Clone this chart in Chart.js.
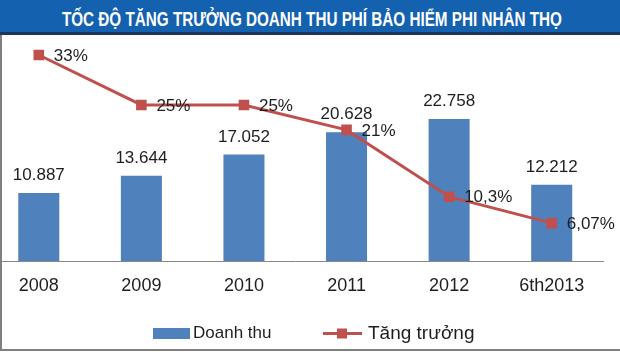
<!DOCTYPE html>
<html>
<head>
<meta charset="utf-8">
<script src="https://cdn.jsdelivr.net/npm/chart.js@4.4.1/dist/chart.umd.min.js"></script>
<style>
  html, body { margin:0; padding:0; background:#fff; }
  body { width:620px; height:354px; position:relative; overflow:hidden; }
  #banner { position:absolute; left:0; top:0; width:620px; height:32px; background:#1461b0; border-bottom:3px solid #1f3558; }
  #title { position:absolute; left:0; top:3px; width:620px; height:32px; line-height:32px; white-space:nowrap; }
  #title span { position:absolute; top:0; left:0; display:inline-block; font-family:"Liberation Sans", Arial, sans-serif; font-weight:bold; font-size:20px; color:#fff; transform-origin:center center; }
  #lb { position:absolute; left:0; top:35px; width:2px; height:316px; background:#7f7f7f; z-index:5; }
  #bb { position:absolute; left:0; top:349px; width:620px; height:2px; background:#7f7f7f; z-index:5; }
  #wrap { position:absolute; left:-20px; top:35px; width:640px; height:319px; }
</style>
</head>
<body>
<div id="banner"></div>
<div id="title"><span id="tspan">TỐC ĐỘ TĂNG TRƯỞNG DOANH THU PHÍ BẢO HIỂM PHI NHÂN THỌ</span></div>
<div id="wrap"><canvas id="c" width="640" height="319"></canvas></div>
<div id="lb"></div>
<div id="bb"></div>
<script>
const categories = ["2008", "2009", "2010", "2011", "2012", "6th2013"];
const revenue = [10.887, 13.644, 17.052, 20.628, 22.758, 12.212];
const revenueLabels = ["10.887", "13.644", "17.052", "20.628", "22.758", "12.212"];
const growth = [33, 25, 25, 21, 10.3, 6.07];
const growthLabels = ["33%", "25%", "25%", "21%", "10,3%", "6,07%"];
const seriesNames = ["Doanh thu", "Tăng trưởng"];

// condense title to fit its width, centred at x = 312
(function(){
  const s = document.getElementById('tspan');
  const w = s.getBoundingClientRect().width;
  s.style.left = (312 - w / 2) + 'px';
  s.style.transform = 'scaleX(' + (500 / w) + ')';
})();

const BAR = '#4f81bd';
const LINE = '#c0504d';
const TXT = '#1e1e1e';
const FONT = '"Liberation Sans", Arial, sans-serif';

const labelPlugin = {
  id: 'valueLabels',
  afterDatasetsDraw(chart) {
    const ctx = chart.ctx;
    ctx.save();
    ctx.fillStyle = TXT;
    ctx.font = '17px ' + FONT;
    const barMeta = chart.getDatasetMeta(1);
    ctx.textAlign = 'center';
    ctx.textBaseline = 'alphabetic';
    barMeta.data.forEach((el, i) => {
      ctx.fillText(revenueLabels[i], el.x, el.y - 13);
    });
    const lineMeta = chart.getDatasetMeta(0);
    ctx.textAlign = 'left';
    ctx.textBaseline = 'middle';
    lineMeta.data.forEach((el, i) => {
      ctx.fillText(growthLabels[i], el.x + 15, el.y + 1);
    });
    ctx.restore();
  },
  afterDraw(chart) {
    const ctx = chart.ctx;
    const ox = 20, oy = -35;
    ctx.save();
    ctx.fillStyle = BAR;
    ctx.fillRect(153 + ox, 328 + oy, 37, 11);
    ctx.fillStyle = TXT;
    ctx.font = '17px ' + FONT;
    ctx.textAlign = 'left';
    ctx.textBaseline = 'alphabetic';
    ctx.fillText(seriesNames[0], 193 + ox, 338 + oy);
    ctx.strokeStyle = LINE;
    ctx.lineWidth = 3;
    ctx.beginPath();
    ctx.moveTo(323 + ox, 333.5 + oy);
    ctx.lineTo(362 + ox, 333.5 + oy);
    ctx.stroke();
    ctx.fillStyle = LINE;
    ctx.fillRect(337 + ox, 328.5 + oy, 10, 10);
    ctx.fillStyle = TXT;
    ctx.font = '19px ' + FONT;
    ctx.fillText(seriesNames[1], 368 + ox, 339 + oy);
    ctx.restore();
  }
};

new Chart(document.getElementById('c'), {
  data: {
    labels: categories,
    datasets: [
      {
        type: 'line',
        label: seriesNames[1],
        data: growth,
        yAxisID: 'y1',
        borderColor: LINE,
        borderWidth: 3,
        backgroundColor: LINE,
        pointStyle: 'rect',
        pointRadius: 7.5,
        pointBorderWidth: 0,
        pointBackgroundColor: LINE,
        tension: 0,
        order: 0
      },
      {
        type: 'bar',
        label: seriesNames[0],
        data: revenue,
        yAxisID: 'y',
        backgroundColor: BAR,
        borderWidth: 0,
        categoryPercentage: 1.0,
        barPercentage: 0.4,
        order: 1
      }
    ]
  },
  options: {
    responsive: false,
    animation: false,
    devicePixelRatio: 1,
    layout: { padding: { left: 7, right: 17, top: 7, bottom: 0 } },
    plugins: { legend: { display: false }, tooltip: { enabled: false }, title: { display: false } },
    scales: {
      x: {
        type: 'category',
        offset: true,
        grid: { display: false, drawTicks: false },
        border: { display: true, color: '#888888', width: 1 },
        ticks: { color: TXT, font: { family: FONT, size: 18 }, padding: 14, maxRotation: 0, autoSkip: false },
        afterFit(scale) { scale.height = 93; }
      },
      y: { display: false, min: 0, max: 35 },
      y1: { display: false, min: 0, max: 35, position: 'right' }
    }
  },
  plugins: [labelPlugin]
});
</script>
</body>
</html>
